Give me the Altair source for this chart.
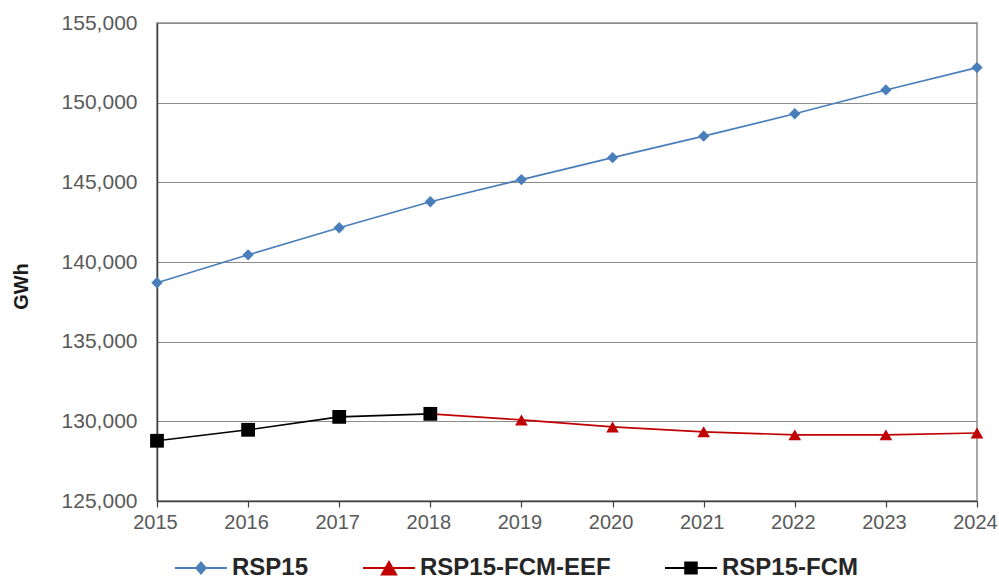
import altair as alt
import pandas as pd

# Annual energy (GWh) by forecast case
years = [2015, 2016, 2017, 2018, 2019, 2020, 2021, 2022, 2023, 2024]
rsp15 = [138700, 140450, 142150, 143780, 145170, 146550, 147900, 149300, 150800, 152200]
fcm_years = [2015, 2016, 2017, 2018]
rsp15_fcm = [128780, 129470, 130280, 130470]
eef_years = [2018, 2019, 2020, 2021, 2022, 2023, 2024]
rsp15_fcm_eef = [130470, 130090, 129650, 129340, 129150, 129150, 129270]

series_names = ["RSP15", "RSP15-FCM-EEF", "RSP15-FCM"]
series_colors = ["#4a7ebb", "#c00000", "#000000"]
marker_shapes = ["diamond", "triangle-up", "square"]

# legend glyphs: a short line with the marker in its middle
legend_glyphs = [
    "M-1,-0.04L1,-0.04L1,0.04L-1,0.04Z M0,-0.27L0.23,0L0,0.27L-0.23,0Z",
    "M-1,-0.04L1,-0.04L1,0.04L-1,0.04Z M0,-0.31L0.34,0.29L-0.34,0.29Z",
    "M-1,-0.04L1,-0.04L1,0.04L-1,0.04Z M-0.26,-0.25L0.26,-0.25L0.26,0.25L-0.26,0.25Z",
]

rows = []
for y, v in zip(years, rsp15):
    rows.append({"year": y, "gwh": v, "series": "RSP15"})
for y, v in zip(eef_years, rsp15_fcm_eef):
    rows.append({"year": y, "gwh": v, "series": "RSP15-FCM-EEF"})
for y, v in zip(fcm_years, rsp15_fcm):
    rows.append({"year": y, "gwh": v, "series": "RSP15-FCM"})
df = pd.DataFrame(rows)

FONT = "Liberation Sans"

x_enc = alt.X(
    "year:Q",
    scale=alt.Scale(domain=[2015, 2024], nice=False, zero=False),
    axis=alt.Axis(
        title=None, values=years, format="d", grid=False,
        ticks=True, tickSize=6, tickColor="#404040", tickWidth=1.2,
        domain=True, domainColor="#404040", domainWidth=1.5,
        labelFont=FONT, labelFontSize=20, labelColor="#595959",
        labelPadding=5, labelOffset=-2, labelFlush=False, labelOverlap=False,
    ),
)
y_enc = alt.Y(
    "gwh:Q",
    scale=alt.Scale(domain=[125000, 155000], nice=False, zero=False),
    axis=alt.Axis(
        title="GWh", values=list(range(125000, 155001, 5000)), format=",d",
        grid=True, gridColor="#8c8c8c", gridWidth=1,
        ticks=False, tickSize=0,
        domain=True, domainColor="#404040", domainWidth=1.5,
        labelFont=FONT, labelFontSize=21, labelColor="#595959", labelPadding=20,
        titleFont=FONT, titleFontSize=20, titleFontWeight="bold", titleColor="#1a1a1a",
        titleAngle=-90, titleAlign="center", titleBaseline="middle",
        titleX=-136, titleY=263,
    ),
)

color_scale = alt.Scale(domain=series_names, range=series_colors)

lines = alt.Chart(df).mark_line(strokeWidth=1.6).encode(
    x=x_enc,
    y=y_enc,
    color=alt.Color("series:N", scale=color_scale, legend=None),
    detail="series:N",
)

points = alt.Chart(df).transform_filter(
    (alt.datum.series != "RSP15-FCM-EEF") | (alt.datum.year > 2018)
).mark_point(filled=True, opacity=1).encode(
    x=x_enc,
    y=y_enc,
    color=alt.Color("series:N", scale=color_scale, legend=None),
    shape=alt.Shape("series:N", scale=alt.Scale(domain=series_names, range=marker_shapes), legend=None),
    size=alt.Size("series:N", scale=alt.Scale(domain=series_names, range=[130, 190, 170]), legend=None),
)

legend_props = dict(
    title=None, orient="none", direction="horizontal",
    legendX=18, legendY=519, padding=0,
    symbolSize=2704, symbolStrokeWidth=0, symbolOpacity=1,
    labelFont=FONT, labelFontSize=24, labelFontWeight="bold",
    labelColor="#262626", labelOffset=5, columnPadding=54,
    labelLimit=400,
)

# legend-only layer (no marks drawn)
legend_layer = alt.Chart(df).transform_filter("false").mark_point(filled=True).encode(
    x=x_enc,
    y=y_enc,
    color=alt.Color(
        "series:N",
        scale=alt.Scale(domain=series_names, range=series_colors),
        legend=alt.Legend(**legend_props),
    ),
    shape=alt.Shape(
        "series:N",
        scale=alt.Scale(domain=series_names, range=legend_glyphs),
        legend=alt.Legend(**legend_props),
    ),
)

chart = alt.layer(lines, points, legend_layer).resolve_scale(
    color="independent", shape="independent"
).properties(
    width=820,
    height=478,
    autosize=alt.AutoSizeParams(type="none"),
    padding={"left": 157, "top": 23, "right": 22, "bottom": 78},
    background="white",
).configure_view(
    stroke="#8c8c8c", strokeWidth=1.5
)

chart.save("out.html", embed_options={"renderer": "svg", "actions": False})
